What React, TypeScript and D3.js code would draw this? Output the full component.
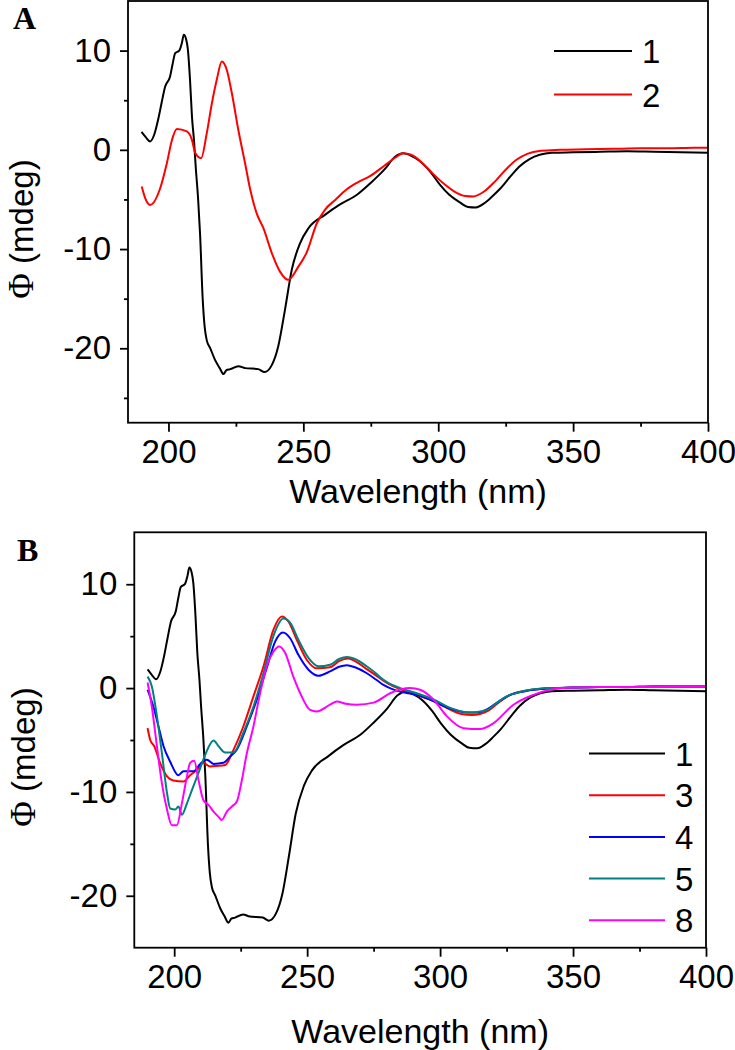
import React, { useEffect, useRef } from "react";
import * as d3 from "d3";

type Pt = [number, number];

// tick values
const wavelengthTicks = [200, 250, 300, 350, 400];
const wavelengthMinor = [225, 275, 325, 375];
const phiTicks = [-20, -10, 0, 10];
const phiMinorA = [-25, -15, -5, 5];
const phiMinorB = [-15, -5, 5];

// CD spectra, [wavelength nm, mdeg]
const sample1: Pt[] = [
  [190, 1.8], [191.5, 1.3], [193.2, 0.85], [194.8, 1.6], [196.3, 3.2], [197.5, 4.8],
  [198.8, 6.4], [200.6, 7.4], [201.5, 8.6], [202.5, 9.75], [204, 10.0], [205, 10.8],
  [205.7, 11.6], [206.5, 11.2], [207.2, 10.1], [208, 7.0], [208.7, 3.4], [209.5, 0.8],
  [210.1, -1.7], [211, -5.0], [211.7, -8.4], [212.7, -15.1], [213.4, -17.8], [214.2, -19.2],
  [215.5, -20.0], [217.3, -21.2], [219, -22.0], [220.4, -22.6], [221.5, -22.2], [222.9, -22.1],
  [225.9, -21.8], [228.4, -22.0], [233.3, -22.1], [235.6, -22.4], [238.3, -21.7], [240.7, -19.8],
  [243.2, -16.1], [245.7, -12.1], [248.8, -9.4], [251.9, -7.9], [258, -6.55], [263.6, -5.5],
  [270, -4.5], [274.7, -3.4], [280, -2.0], [284, -0.7], [287, -0.35], [290, -0.6],
  [293, -1.1], [297, -2.2], [300.6, -3.5], [304, -4.5], [308, -5.3], [311, -5.75],
  [314, -5.8], [317, -5.4], [320, -4.7], [323, -3.9], [327, -2.6], [330, -1.7],
  [334, -0.9], [337.6, -0.5], [342, -0.3], [350, -0.25], [360, -0.2], [370, -0.15],
  [380, -0.2], [390, -0.25], [400, -0.3],
];

const sample2: Pt[] = [
  [190.1, -3.7], [191.4, -4.9], [193.2, -5.55], [196.9, -3.9], [199.4, -1.35], [201.3, 1.0],
  [203.1, 2.1], [206.8, 1.85], [208.7, 1.0], [209.9, -0.3], [212.1, -0.84], [214.2, 1.68],
  [216.1, 4.7], [217.9, 7.06], [219.8, 8.9], [221.6, 8.07], [223.5, 5.7], [225.9, 2.0],
  [228.4, -1.35], [230.3, -4.0], [232.7, -6.4], [235.2, -7.9], [238.3, -10.4], [241.4, -12.3],
  [244.4, -13.1], [248.1, -11.8], [251.3, -10.3], [255, -7.4], [258, -6.05], [262, -5.0],
  [266, -4.0], [270, -3.3], [275, -2.6], [280, -1.6], [284, -0.8], [287, -0.35],
  [290, -0.5], [294, -1.3], [298, -2.4], [302, -3.4], [306, -4.2], [310, -4.65],
  [313, -4.7], [317, -4.2], [321, -3.2], [325, -2.0], [329, -1.0], [333, -0.4],
  [338, -0.1], [345, 0.0], [355, 0.05], [365, 0.1], [375, 0.15], [385, 0.15],
  [395, 0.2], [400, 0.2],
];

const sample3: Pt[] = [
  [190, -3.86], [191, -5.0], [192.5, -5.6], [194.7, -7.2], [197.3, -8.5], [199.7, -8.9],
  [203.5, -9.0], [206, -8.4], [208.5, -7.9], [211, -7.2], [213.5, -7.55], [216, -7.5],
  [219.2, -7.4], [222.3, -5.95], [226, -3.7], [229.8, -0.8], [233.6, 2.1], [237.3, 5.6],
  [240.5, 6.9], [243, 6.4], [246.1, 4.65], [249.9, 2.7], [253.6, 1.9], [258.6, 2.0],
  [262, 2.6], [265.5, 2.85], [268, 2.6], [272, 1.9], [276, 1.2], [280, 0.5],
  [285, -0.1], [291, -0.65], [297.5, -1.25], [304, -2.1], [308, -2.5], [312, -2.6],
  [315, -2.5], [318, -2.2], [322, -1.4], [326, -0.7], [332, -0.25], [340, -0.05],
  [350, 0.05], [360, 0.1], [370, 0.1], [380, 0.15], [390, 0.15], [400, 0.15],
];

const sample4: Pt[] = [
  [190, -0.16], [192.2, -1.8], [194.1, -3.7], [196, -5.6], [198.5, -7.1], [201.6, -8.4],
  [203.5, -8.0], [207.3, -8.0], [209.8, -7.3], [212.3, -6.9], [214.8, -7.3], [218.5, -7.2],
  [221, -6.6], [223.6, -5.9], [227.3, -3.7], [231.1, -1.1], [234.8, 1.93], [238, 4.5],
  [240.9, 5.36], [243.6, 4.8], [246.7, 3.2], [250.5, 1.77], [254.2, 1.19], [258.6, 1.6],
  [262, 2.05], [264.9, 2.2], [268, 2.0], [272.3, 1.45], [276, 0.8], [278.7, 0.3],
  [283, -0.2], [288, -0.5], [292, -0.7], [297.5, -1.25], [303, -1.9], [307, -2.2],
  [310, -2.35], [314, -2.35], [318, -2.0], [322, -1.3], [326, -0.7], [332, -0.3],
  [340, -0.05], [350, 0.05], [360, 0.1], [370, 0.1], [380, 0.15], [390, 0.15], [400, 0.15],
];

const sample5: Pt[] = [
  [190, 1.1], [191.6, 0.15], [193.5, -2.7], [195.4, -6.3], [197.3, -10.1], [198.5, -11.6],
  [200.4, -11.7], [201.6, -11.4], [202.9, -12.2], [204.8, -11.1], [206.7, -9.8], [209.1, -8.2],
  [211.7, -6.4], [214.8, -5.05], [216.7, -5.6], [219.2, -6.2], [222.3, -6.2], [226, -4.3],
  [229.8, -1.8], [233.6, 1.45], [237.3, 5.0], [241.1, 6.7], [243.6, 6.3], [246.7, 4.65],
  [250.5, 2.9], [254.2, 2.1], [258.6, 2.25], [262, 2.8], [265, 3.0], [268, 2.8],
  [272.4, 2.1], [275.5, 1.5], [278.7, 0.8], [282, 0.3], [285, 0.0], [291.2, -0.5],
  [297.5, -1.1], [303.8, -1.9], [308, -2.25], [311.3, -2.35], [314, -2.3], [317.6, -2.1],
  [321, -1.5], [325, -0.8], [329, -0.45], [332.6, -0.23], [341, 0], [350, 0.05],
  [360, 0.1], [370, 0.1], [380, 0.15], [390, 0.15], [400, 0.15],
];

const sample8: Pt[] = [
  [190, 0.54], [191.6, -1.8], [193.5, -5.6], [195.4, -9.2], [197.3, -11.7], [199.1, -13.2],
  [201, -13.2], [202.9, -11.1], [204.8, -8.5], [206, -7.2], [207.5, -7.0], [209.1, -8.8],
  [211, -10.8], [212.9, -11.25], [214.8, -11.9], [216.7, -12.4], [217.9, -12.7], [219.8, -11.9],
  [221.7, -11.4], [223.6, -10.9], [225.5, -8.8], [227.3, -6.3], [229.8, -3.7], [232.3, -0.5],
  [234.8, 2.1], [237.3, 3.5], [239.5, 4.0], [241.7, 3.4], [244.8, 1.1], [247.4, -0.5],
  [251.1, -2.1], [253.6, -2.25], [258.6, -1.6], [261.2, -1.3], [264.5, -1.5], [268.7, -1.6],
  [275, -1.4], [281.2, -0.5], [288.7, 0.0], [292.5, -0.16], [297.5, -1.1], [302.5, -2.7],
  [308.8, -3.86], [315, -3.95], [320, -3.4], [327.6, -1.6], [335.1, -0.65], [341.4, -0.16],
  [350, 0.05], [360, 0.1], [370, 0.1], [380, 0.1], [390, 0.15], [400, 0.15],
];

const panelASeries = [
  { label: "1", color: "#000000", points: sample1 },
  { label: "2", color: "#ff0000", points: sample2 },
];

const panelBSeries = [
  { label: "1", color: "#000000", points: sample1 },
  { label: "3", color: "#ff0000", points: sample3 },
  { label: "4", color: "#0000ff", points: sample4 },
  { label: "5", color: "#008080", points: sample5 },
  { label: "8", color: "#ff00ff", points: sample8 },
];

const FONT = "'Liberation Sans', Arial, sans-serif";
const SERIF = "'Liberation Serif', 'Times New Roman', serif";

function Panel({ box, yDomain, yMinor, series, letter, letterPos, legend, yLabel, xLabelY }) {
  const axRef = useRef<SVGGElement>(null);
  const [x0, y0, x1, y1] = box;

  const x = d3.scaleLinear().domain([185, 400]).range([x0, x1]);
  const y = d3.scaleLinear().domain(yDomain).range([y1, y0]);

  const lineGen = d3
    .line<Pt>()
    .x((d) => x(d[0]))
    .y((d) => y(d[1]))
    .curve(d3.curveMonotoneX);

  useEffect(() => {
    const g = d3.select(axRef.current);

    const style = (sel) => {
      sel.select(".domain").remove();
      sel.selectAll("line").attr("stroke", "#000").attr("stroke-width", 1.8);
      sel.selectAll("text").attr("font-size", 33).attr("font-family", FONT).attr("fill", "#000");
    };

    g.select(".x-axis")
      .attr("transform", `translate(0,${y1})`)
      .call(d3.axisBottom(x).tickValues(wavelengthTicks).tickSize(9).tickPadding(8).tickFormat((d) => String(d)))
      .call(style);
    g.select(".x-minor")
      .attr("transform", `translate(0,${y1})`)
      .call(d3.axisBottom(x).tickValues(wavelengthMinor).tickSize(4).tickFormat(() => ""))
      .call(style);
    g.select(".y-axis")
      .attr("transform", `translate(${x0},0)`)
      .call(d3.axisLeft(y).tickValues(phiTicks).tickSize(8).tickPadding(9).tickFormat((d) => String(d)))
      .call(style);
    g.select(".y-minor")
      .attr("transform", `translate(${x0},0)`)
      .call(d3.axisLeft(y).tickValues(yMinor).tickSize(4).tickFormat(() => ""))
      .call(style);
  }, []);

  return (
    <g>
      {series.map((s) => (
        <path key={s.label} d={lineGen(s.points) || ""} fill="none" stroke={s.color} strokeWidth={2} />
      ))}
      <rect x={x0} y={y0} width={x1 - x0} height={y1 - y0} fill="none" stroke="#000" strokeWidth={1.8} />
      <g ref={axRef}>
        <g className="x-axis" />
        <g className="x-minor" />
        <g className="y-axis" />
        <g className="y-minor" />
      </g>
      {series.map((s, i) => (
        <g key={"lg" + s.label}>
          <line
            x1={legend.x0}
            x2={legend.x1}
            y1={legend.y + i * legend.step}
            y2={legend.y + i * legend.step}
            stroke={s.color}
            strokeWidth={2}
          />
          <text x={legend.x1 + 10} y={legend.y + i * legend.step + 12} fontSize={33} fontFamily={FONT}>
            {s.label}
          </text>
        </g>
      ))}
      <text x={(x0 + x1) / 2} y={xLabelY} textAnchor="middle" fontSize={34} fontFamily={FONT}>
        Wavelength (nm)
      </text>
      <text
        transform={`translate(${yLabel.x},${yLabel.y}) rotate(-90)`}
        textAnchor="middle"
        fontSize={33}
        fontFamily={FONT}
      >
        <tspan fontFamily={SERIF} fontSize={35}>Φ</tspan> (mdeg)
      </text>
      <text x={letterPos[0]} y={letterPos[1]} fontSize={32} fontWeight="bold" fontFamily={SERIF}>
        {letter}
      </text>
    </g>
  );
}

export default function App() {
  return (
    <svg width={735} height={1050} style={{ position: "absolute", left: 0, top: 0, background: "#fff" }}>
      <Panel
        box={[128, 1, 708, 422.7]}
        yDomain={[-27.5, 15]}
        yMinor={phiMinorA}
        series={panelASeries}
        letter="A"
        letterPos={[13, 29]}
        legend={{ x0: 554, x1: 632, y: 51, step: 43.5 }}
        yLabel={{ x: 33, y: 229 }}
        xLabelY={503}
      />
      <Panel
        box={[134.3, 532.3, 706, 947.7]}
        yDomain={[-25, 15]}
        yMinor={phiMinorB}
        series={panelBSeries}
        letter="B"
        letterPos={[17, 561]}
        legend={{ x0: 589, x1: 665, y: 753.5, step: 41.7 }}
        yLabel={{ x: 35, y: 757 }}
        xLabelY={1043}
      />
    </svg>
  );
}
